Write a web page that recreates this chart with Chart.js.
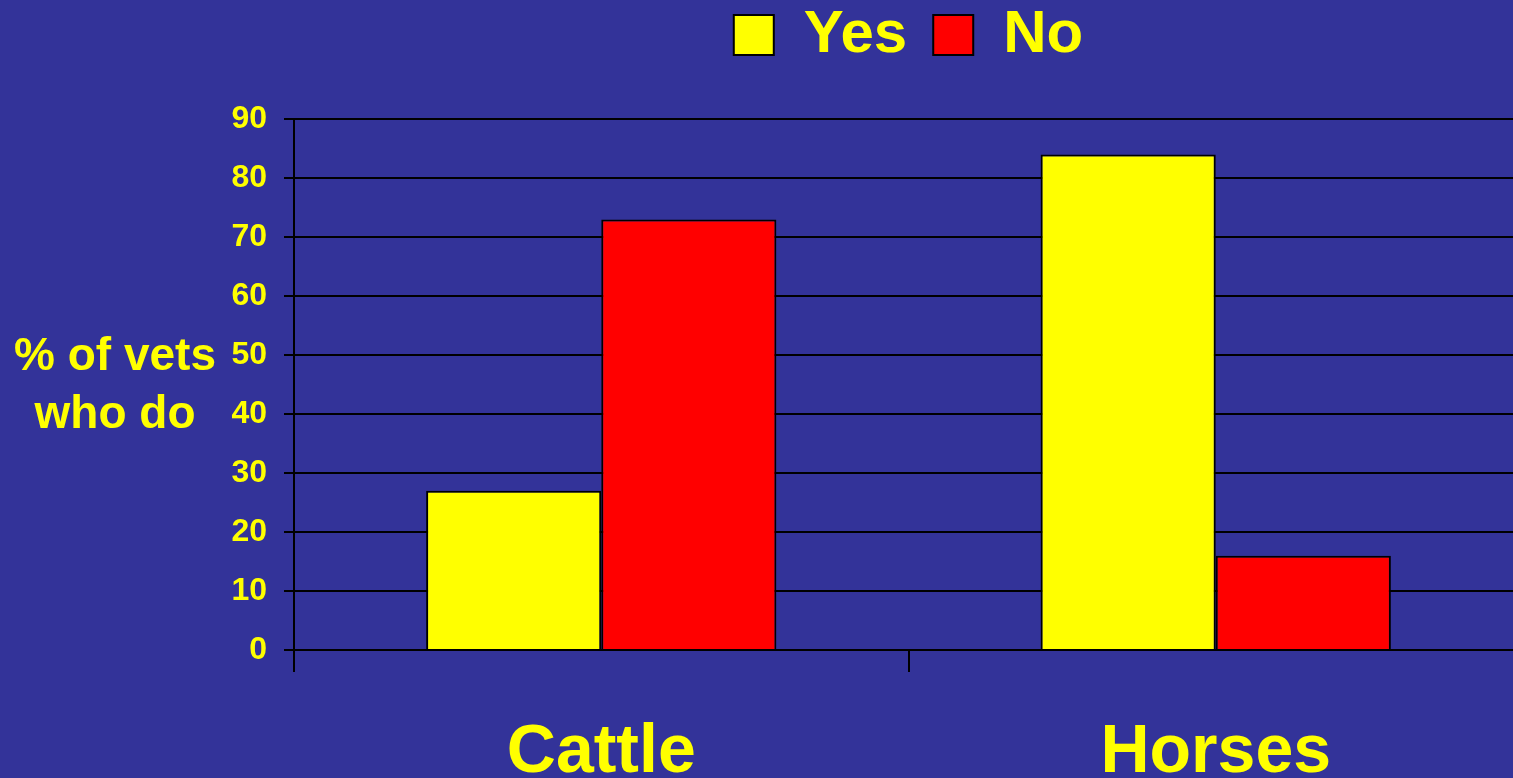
<!DOCTYPE html>
<html>
<head>
<meta charset="utf-8">
<script src="https://cdn.jsdelivr.net/npm/chart.js@4/dist/chart.umd.min.js"></script>
<style>
  html, body { margin: 0; padding: 0; background: #333399; overflow: hidden; }
  #wrap { width: 1530px; height: 778px; position: relative; }
</style>
</head>
<body>
<div id="wrap"><canvas id="chart"></canvas></div>
<script>
const categories = ['Cattle', 'Horses'];
const yesValues = [27, 84];
const noValues = [73, 16];
const yTitleLines = ['% of vets', 'who do'];

const FONT = 'Arial, "Liberation Sans", sans-serif';
const YELLOW = '#ffff00';

// y axis title is horizontal, two lines, left of the tick labels
const yTitlePlugin = {
    id: 'yTitle',
    afterDraw(chart) {
        const ctx = chart.ctx;
        ctx.save();
        ctx.fillStyle = YELLOW;
        ctx.font = 'bold 46px ' + FONT;
        ctx.textAlign = 'center';
        ctx.textBaseline = 'alphabetic';
        ctx.fillText(yTitleLines[0], 115, 370);
        ctx.fillText(yTitleLines[1], 115, 428);
        ctx.restore();
    }
};

const ctx = document.getElementById('chart').getContext('2d');
new Chart(ctx, {
    type: 'bar',
    data: {
        labels: categories,
        datasets: [{
            label: 'Yes',
            data: yesValues,
            backgroundColor: YELLOW,
            borderColor: '#000',
            borderWidth: 2
        }, {
            label: 'No',
            data: noValues,
            backgroundColor: '#ff0000',
            borderColor: '#000',
            borderWidth: 2
        }]
    },
    options: {
        responsive: true,
        maintainAspectRatio: false,
        animation: false,
        datasets: {
            bar: { barPercentage: 1, categoryPercentage: 0.57 }
        },
        layout: { padding: { top: -21, right: 7, bottom: 0, left: 0 } },
        plugins: {
            legend: {
                position: 'top',
                fullSize: false,
                labels: {
                    color: YELLOW,
                    font: { family: FONT, size: 60, weight: 'bold' },
                    boxWidth: 40,
                    boxHeight: 40,
                    padding: 26
                }
            },
            // empty spacer between legend and plot
            subtitle: {
                display: true,
                text: ' ',
                weight: 500,
                font: { size: 1 },
                padding: { top: 0, bottom: 43 }
            },
            tooltip: { enabled: false }
        },
        scales: {
            x: {
                afterFit(scale) { scale.height = 128; },
                grid: {
                    display: true,
                    drawOnChartArea: false,
                    offset: true,
                    color: '#000',
                    lineWidth: 2,
                    tickLength: 22
                },
                border: { color: '#000', width: 2 },
                ticks: {
                    color: YELLOW,
                    padding: 40,
                    font: { family: FONT, size: 68, weight: 'bold' }
                }
            },
            y: {
                min: 0,
                max: 90,
                afterFit(scale) { scale.width = 294; },
                grid: {
                    color: '#000',
                    lineWidth: 2,
                    tickLength: 10
                },
                border: { color: '#000', width: 2 },
                ticks: {
                    stepSize: 10,
                    color: YELLOW,
                    padding: 17,
                    font: { family: FONT, size: 32, weight: 'bold' }
                }
            }
        }
    },
    plugins: [yTitlePlugin]
});
</script>
</body>
</html>
